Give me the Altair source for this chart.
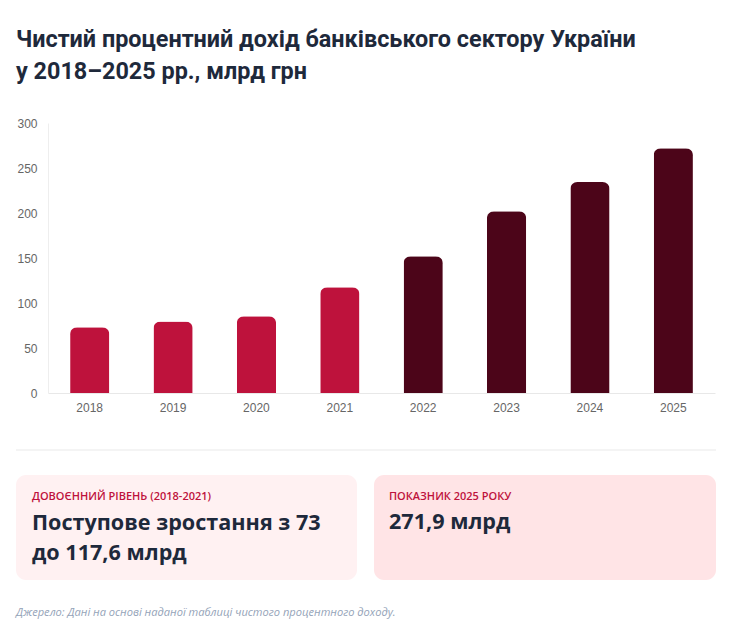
import altair as alt
import pandas as pd

# Net interest income of Ukraine's banking sector, UAH bn
years = ["2018", "2019", "2020", "2021", "2022", "2023", "2024", "2025"]
values = [73.0, 79.5, 85.2, 117.6, 151.9, 201.9, 234.4, 271.9]
periods = ["pre", "pre", "pre", "pre", "war", "war", "war", "war"]

period_domain = ["pre", "war"]
period_colors = ["#be123c", "#4c0519"]

title_lines = ["Чистий процентний дохід банківського сектору України",
               "у 2018–2025 рр., млрд грн"]
card_left_label = "ДОВОЄННИЙ РІВЕНЬ (2018-2021)"
card_left_lines = ["Поступове зростання з 73", "до 117,6 млрд"]
card_right_label = "ПОКАЗНИК 2025 РОКУ"
card_right_value = "271,9 млрд"
source_note = "Джерело: Дані на основі наданої таблиці чистого процентного доходу."

df = pd.DataFrame({"year": years, "value": values, "period": periods})

FONT = "Open Sans"
W, H = 667, 270

bars = alt.Chart(df).mark_bar(
    cornerRadiusTopLeft=7, cornerRadiusTopRight=7
).encode(
    x=alt.X("year:N", sort=years, title=None,
            scale=alt.Scale(paddingInner=0.53, paddingOuter=0.265),
            axis=alt.Axis(labelAngle=0, ticks=False, labelPadding=9,
                          domainColor="#e8e8e8", labelColor="#666666",
                          labelFont="Liberation Sans", labelFontSize=12)),
    y=alt.Y("value:Q", title=None,
            scale=alt.Scale(domain=[0, 300], nice=False),
            axis=alt.Axis(values=[0, 50, 100, 150, 200, 250, 300], grid=False,
                          ticks=False, labelPadding=11, domainColor="#eeeeee",
                          labelColor="#666666", labelFont="Liberation Sans",
                          labelFontSize=12)),
    color=alt.Color("period:N", legend=None,
                    scale=alt.Scale(domain=period_domain, range=period_colors)),
)


def text(label, x, y, size, color, weight="normal", style="normal", font=FONT):
    return alt.Chart(df.head(1)).mark_text(
        text=label, align="left", baseline="alphabetic", font=font,
        fontSize=size, fontWeight=weight, fontStyle=style, color=color,
    ).encode(x=alt.value(x), y=alt.value(y))


def card(x0, x1, y0, y1, fill):
    return alt.Chart(df.head(1)).mark_rect(
        cornerRadius=10, color=fill
    ).encode(x=alt.value(x0), x2=alt.value(x1), y=alt.value(y0), y2=alt.value(y1))


separator = alt.Chart(df.head(1)).mark_rule(color="#f0f0f0", strokeWidth=1.5).encode(
    x=alt.value(-32), x2=alt.value(668), y=alt.value(327)
)

layers = [
    bars,
    text(title_lines[0], -32, -76, 23.4, "#1e293b", weight="bold", font="Roboto"),
    text(title_lines[1], -32, -44, 23.4, "#1e293b", weight="bold", font="Roboto"),
    separator,
    card(-32, 309, 352, 457, "#fff1f2"),
    card(326, 668, 352, 457, "#ffe4e6"),
    text(card_left_label, -16, 377, 11, "#be123c", weight=600),
    text(card_left_lines[0], -16, 407, 21.6, "#1e293b", weight="bold"),
    text(card_left_lines[1], -16, 437, 21.6, "#1e293b", weight="bold"),
    text(card_right_label, 341, 377, 11, "#be123c", weight=600),
    text(card_right_value, 341, 406, 21.6, "#1e293b", weight="bold"),
    text(source_note, -32, 493, 11.1, "#94a3b8", style="italic"),
]

chart = alt.layer(*layers).properties(
    width=W, height=H,
    autosize=alt.AutoSizeParams(type="none"),
    padding={"left": 48, "top": 123, "right": 25, "bottom": 237},
    background="#ffffff",
).configure_view(stroke=None)

chart.save("out.html", embed_options={"renderer": "svg", "actions": False})
